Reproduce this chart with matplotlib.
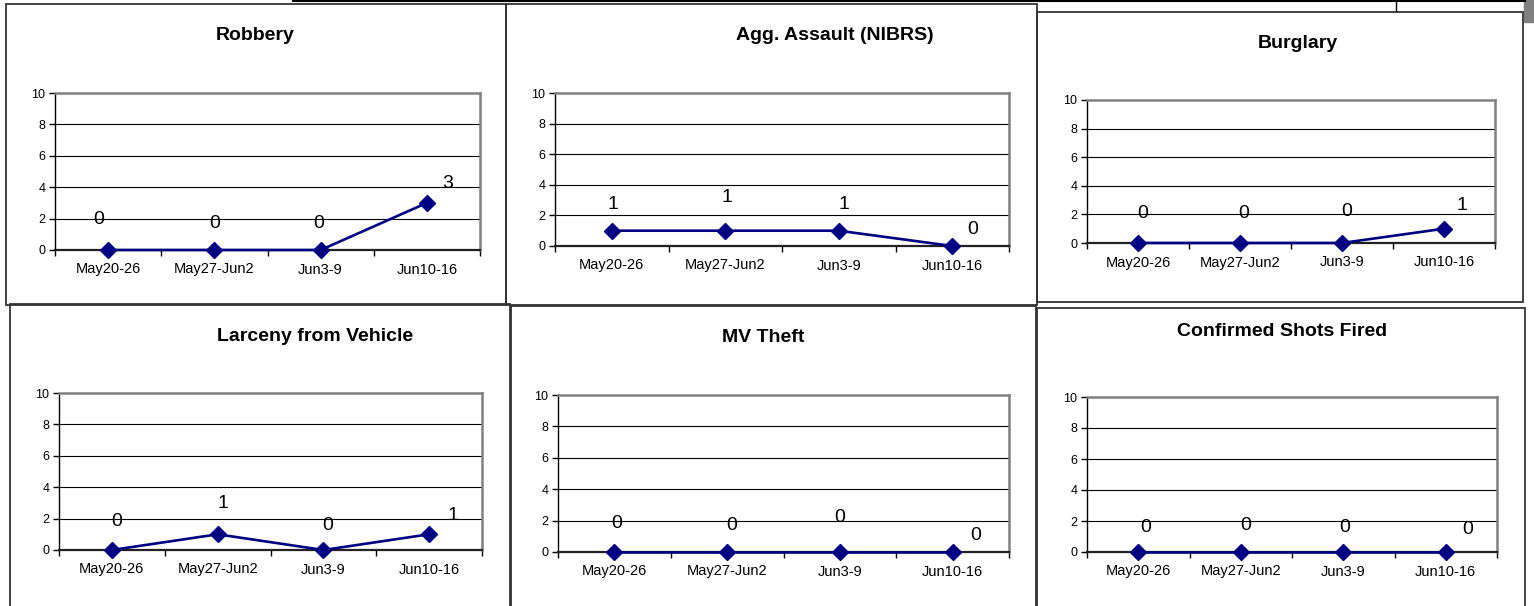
import matplotlib
matplotlib.use('Agg')
import matplotlib.pyplot as plt
from matplotlib.patches import Rectangle
from matplotlib.lines import Line2D

plt.rcParams['font.family'] = ['Liberation Sans', 'DejaVu Sans']

# Datos
weeks = ['May20-26', 'May27-Jun2', 'Jun3-9', 'Jun10-16']
titles = ['Robbery', 'Agg. Assault (NIBRS)', 'Burglary',
          'Larceny from Vehicle', 'MV Theft', 'Confirmed Shots Fired']
robbery = [0, 0, 0, 3]
agg_assault = [1, 1, 1, 0]
burglary = [0, 0, 0, 1]
larceny_vehicle = [0, 1, 0, 1]
mv_theft = [0, 0, 0, 0]
shots_fired = [0, 0, 0, 0]
series = [robbery, agg_assault, burglary, larceny_vehicle, mv_theft, shots_fired]

W, H = 1534, 606

# caixes en pixels: (esquerra, dalt, dreta, baix)
plot_boxes = [(55, 93, 480, 250), (555, 93, 1009, 246), (1087, 100, 1495, 243),
              (59, 393, 482, 550), (558, 395, 1009, 552), (1087, 397, 1497, 552)]
frames = [(6, 4, 506, 305), (506, 4, 1037, 305), (1037, 12, 1523, 302),
          (10, 304, 510, 612), (511, 306, 1036, 612), (1037, 308, 1525, 612)]
title_pos = [(255, 35), (835, 35), (1298, 43), (315, 336), (763, 338), (1282, 332)]
# posicio de les etiquetes respecte del marcador (pixels)
label_offsets = [
    [(-9, 30), (0, 26), (-2, 26), (21, 19)],
    [(1, 26), (2, 33), (5, 26), (20, 17)],
    [(5, 29), (4, 29), (5, 31), (18, 23)],
    [(5, 29), (5, 31), (4, 25), (24, 19)],
    [(2, 28), (5, 26), (0, 34), (23, 16)],
    [(7, 25), (5, 26), (1, 25), (22, 23)],
]


def fx(x):
    return x / W


def fy(y):
    return 1 - y / H


fig = plt.figure(figsize=(W / 100, H / 100), dpi=100)

# linies de la taula de dalt
fig.add_artist(Line2D([fx(293), fx(1525)], [fy(1), fy(1)], color='black', lw=1.5))
fig.add_artist(Line2D([fx(1396), fx(1396)], [fy(0), fy(11)], color='black', lw=1))
fig.add_artist(Rectangle((fx(1524), fy(22)), fx(10), 22 / H, color='#808080'))

for (l, t, r, b) in frames:
    fig.add_artist(Rectangle((fx(l), fy(b)), (r - l) / W, (b - t) / H,
                             fill=False, edgecolor='#333333', lw=1.3))

for i in range(6):
    l, t, r, b = plot_boxes[i]
    ax = fig.add_axes([fx(l), fy(b), (r - l) / W, (b - t) / H])
    x = list(range(len(weeks)))
    vals = series[i]
    ax.plot(x, vals, color='#000080', lw=1.9, marker='D', ms=8,
            markerfacecolor='#000080', markeredgecolor='#000080', clip_on=False, zorder=5)
    for j, v in enumerate(vals):
        dx, dy = label_offsets[i][j]
        ax.annotate(str(v), (j, v), xytext=(dx, dy), textcoords='offset pixels',
                    ha='center', va='center', fontsize=14, color='black')
    ax.set_xlim(-0.5, len(weeks) - 0.5)
    ax.set_ylim(0, 10)
    ax.set_yticks([0, 2, 4, 6, 8, 10])
    ax.set_xticks(x)
    ax.set_xticklabels(weeks, fontsize=10.5)
    ax.set_xticks([k - 0.5 for k in range(len(weeks) + 1)], minor=True)
    ax.tick_params(axis='x', which='major', length=0, pad=9)
    ax.tick_params(axis='x', which='minor', length=4, width=1, direction='out')
    ax.tick_params(axis='y', labelsize=9, length=4, width=1, direction='out', pad=3)
    for yv in [2, 4, 6, 8]:
        ax.axhline(yv, color='black', lw=0.8, zorder=1)
    ax.spines['top'].set_color('#808080')
    ax.spines['right'].set_color('#808080')
    ax.spines['top'].set_linewidth(1.8)
    ax.spines['right'].set_linewidth(1.8)
    ax.spines['left'].set_color('black')
    ax.spines['left'].set_linewidth(1)
    ax.spines['bottom'].set_color('#222222')
    ax.spines['bottom'].set_linewidth(1.6)

    tx, ty = title_pos[i]
    fig.text(fx(tx), fy(ty), titles[i], ha='center', va='center',
             fontsize=14, fontweight='bold')

fig.savefig('out.png', dpi=100)
